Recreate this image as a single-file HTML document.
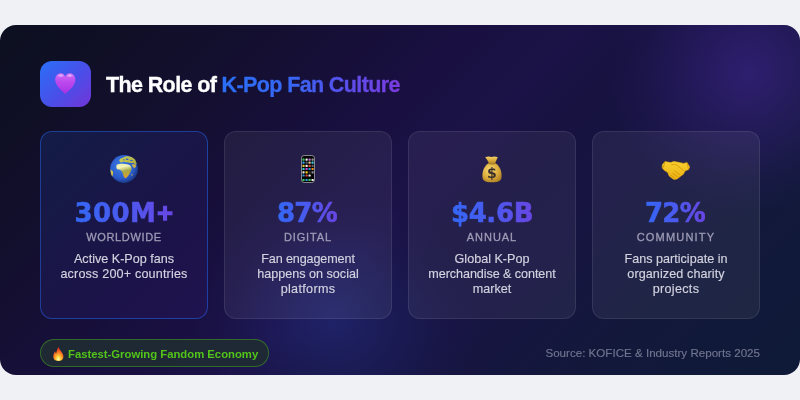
<!DOCTYPE html>
<html>
<head>
<meta charset="utf-8">
<style>
html,body{margin:0;padding:0;}
body{width:800px;height:400px;background:#f0f1f5;position:relative;overflow:hidden;font-family:"Liberation Sans","DejaVu Sans",sans-serif;}
.card{position:absolute;left:0;top:25px;width:800px;height:350px;border-radius:16px;overflow:hidden;
background:linear-gradient(135deg,#0c1020 0%,#0f0f25 10%,#150f33 27%,#170f3c 36%,#1a1144 46%,#1b1247 51%,#171240 57%,#171442 66%,#13183b 80%,#0e1a37 100%);}
.glow1{position:absolute;left:612px;top:-90px;width:276px;height:276px;border-radius:50%;
background:radial-gradient(circle at center,rgba(62,36,140,0.62) 0%,rgba(62,36,140,0.32) 30%,rgba(62,36,140,0.1) 55%,rgba(62,36,140,0) 72%);}
.glow2{position:absolute;left:190px;top:160px;width:290px;height:270px;border-radius:50%;
background:radial-gradient(ellipse at center,rgba(40,56,155,0.42) 0%,rgba(40,56,155,0.22) 28%,rgba(40,56,155,0.06) 52%,rgba(40,56,155,0) 70%);}
.icon{position:absolute;left:40px;top:36px;width:51px;height:46px;border-radius:12px;
background:linear-gradient(135deg,#2a6ff8 0%,#4a4ee8 55%,#7434d8 100%);}
.ic{position:absolute;display:block;overflow:visible;}
h1{position:absolute;left:106px;top:47px;margin:0;font-size:21.5px;font-weight:700;color:#fff;white-space:nowrap;letter-spacing:-0.62px;line-height:26px;-webkit-text-stroke:0.35px #fff;}
.grad{background:linear-gradient(90deg,#2a6ff7 0%,#3866f4 40%,#4e56ee 60%,#7c3be0 100%);-webkit-background-clip:text;background-clip:text;color:transparent;-webkit-text-stroke:0.35px transparent;}
.stat{position:absolute;top:106px;width:166px;height:186px;border-radius:12px;border:1px solid rgba(255,255,255,0.09);
background:rgba(255,255,255,0.06);text-align:center;}
.stat.hl{border-color:rgba(37,99,235,0.52);background:linear-gradient(135deg,rgba(37,99,235,0.16) 0%,rgba(80,70,235,0.1) 55%,rgba(124,58,237,0.07) 100%);}
.num{position:absolute;left:0;right:0;top:64.5px;font-size:26px;font-weight:700;line-height:32px;font-family:"DejaVu Sans",sans-serif;}
.num span{background:linear-gradient(90deg,#3467f5 0%,#4a5aef 50%,#6946e4 100%);-webkit-background-clip:text;background-clip:text;color:transparent;-webkit-text-stroke:0.6px transparent;letter-spacing:-0.35px;}
.lab{position:absolute;left:0;right:0;top:98px;font-size:11px;line-height:14px;letter-spacing:1.2px;color:#9e9bb6;text-transform:uppercase;-webkit-text-stroke:0.3px #9e9bb6;}
.desc{position:absolute;left:4px;right:4px;top:119.5px;font-size:12.6px;line-height:15.4px;color:#d3d3e0;-webkit-text-stroke:0.15px #d3d3e0;}
.badge{position:absolute;left:40px;top:314px;height:26px;width:227px;border-radius:14px;border:1px solid rgba(82,196,26,0.42);
background:rgba(31,43,52,0.93);}
.badge .bt{position:absolute;left:27px;top:7px;font-size:11.3px;font-weight:700;line-height:14px;color:#52c41a;white-space:nowrap;}
.src{position:absolute;right:40px;top:321px;font-size:11.6px;line-height:14px;color:#707590;white-space:nowrap;-webkit-text-stroke:0.15px #707590;}
</style>
</head>
<body>
<div class="card">
  <div class="glow1"></div>
  <div class="glow2"></div>
  <div class="icon"><svg class="ic" style="left:15.2px;top:12px" width="20.6" height="21" viewBox="0 0 20 21" preserveAspectRatio="none"><defs><linearGradient id="hg" x1="0" y1="0" x2="0" y2="1"><stop offset="0" stop-color="#cf6ef4"/><stop offset="0.45" stop-color="#bb48ee"/><stop offset="1" stop-color="#a832e4"/></linearGradient><radialGradient id="hh" cx="0.5" cy="0.5" r="0.5"><stop offset="0" stop-color="#f4c8ff" stop-opacity="0.85"/><stop offset="1" stop-color="#f4c8ff" stop-opacity="0"/></radialGradient></defs><path d="M10 21C7 18 0.2 13.2 0.2 6.6C0.2 2.8 2.8 0.2 5.8 0.2C7.8 0.2 9.2 1.5 10 3.6C10.8 1.5 12.2 0.2 14.2 0.2C17.2 0.2 19.8 2.8 19.8 6.6C19.8 13.2 13 18 10 21Z" fill="url(#hg)"/><ellipse cx="5.6" cy="2.6" rx="3.6" ry="1.9" fill="url(#hh)"/><ellipse cx="14.4" cy="2.6" rx="3.6" ry="1.9" fill="url(#hh)"/></svg></div>
  <h1>The Role of <span class="grad">K-Pop Fan Culture</span></h1>

  <div class="stat hl" style="left:40px">
    <svg class="ic" style="left:69px;top:22.8px" width="28" height="28" viewBox="0 0 28 28"><defs><radialGradient id="go" cx="0.42" cy="0.4" r="0.64"><stop offset="0" stop-color="#3f80ea"/><stop offset="0.68" stop-color="#2a5bca"/><stop offset="1" stop-color="#19347f"/></radialGradient><linearGradient id="gl" x1="0" y1="0" x2="0.25" y2="1"><stop offset="0" stop-color="#eef0a8"/><stop offset="0.3" stop-color="#f3f3b8"/><stop offset="0.6" stop-color="#a4aa46"/><stop offset="1" stop-color="#d59f30"/></linearGradient><linearGradient id="ge" x1="0" y1="0" x2="1" y2="0.6"><stop offset="0" stop-color="#c9cc5a"/><stop offset="1" stop-color="#b0b040"/></linearGradient></defs><circle cx="14" cy="14" r="13.9" fill="url(#go)"/><path d="M9.2 5.2C10 3.8 11.5 3 13 2.8C14.5 1.6 17 1.2 19 1.4C21.5 1.7 23.6 2.8 25 4.6C25.8 5.8 26.3 7.4 26.6 9L25.2 9.6C24.5 8.4 23.5 7.8 22.3 8C21 8.2 19.8 7.6 18.6 7.4C17.2 7.2 16 7.6 14.8 7C13.6 6.4 12.4 7.2 11.2 7.6C10.2 7.3 9.4 6.4 9.2 5.2Z" fill="url(#ge)"/><ellipse cx="17.2" cy="4.3" rx="1.5" ry="0.7" fill="#2d5fc8"/><ellipse cx="21.4" cy="5.4" rx="1.3" ry="0.6" fill="#2d5fc8"/><ellipse cx="13.8" cy="4.8" rx="0.9" ry="0.5" fill="#2d5fc8"/><path d="M6.4 11.5C6.3 10.5 6.6 9.9 7.4 9.6C8.8 9 10.2 8.7 11.6 8.8C13.4 8.6 15.2 9 16.8 9.3C18.2 9.6 19.6 10 20.4 10.8C21.2 11.8 21.8 13.2 21.6 14.3C21.2 15.4 20.6 16.2 20.2 17.2C19.6 18.6 19 19.8 18.2 20.8C17.4 21.9 16.6 22.8 15.8 23.2C14.8 23 14 22.2 13.6 21.2C13.1 19.8 12.8 18.2 12.2 16.9C11.6 15.8 10.6 15 9.4 14.7C8.4 14.6 7.4 14.5 6.9 13.8C6.5 13.1 6.4 12.3 6.4 11.5Z" fill="url(#gl)"/><path d="M21.5 9.6C22.6 9.2 24.2 9 25.8 9.8C26.4 11 25.8 12.4 24.4 13.2C23.4 12.8 22.4 11.4 21.5 9.6Z" fill="#c9b04a"/><path d="M0.6 14.4C1.6 15 2.6 15.8 3.2 16.9C3.1 18.4 2.8 20 2.4 21.4C1.8 20.8 1.4 20 1.1 19.2C0.8 17.6 0.6 16 0.6 14.4Z" fill="#d2c046"/><path d="M21.8 18.6L22.6 19.4L22 21L21.4 20.2Z" fill="#d6b040"/></svg>
    <div class="num"><span style="letter-spacing:0.35px">300M<span style="font-size:21px;vertical-align:2px;background:none;-webkit-text-stroke:1.7px transparent">+</span></span></div>
    <div class="lab" style="letter-spacing:0.65px">Worldwide</div>
    <div class="desc">Active K-Pop fans<br><span style="letter-spacing:0.17px">across 200+ countries</span></div>
  </div>
  <div class="stat" style="left:224px">
    <svg class="ic" style="left:75.5px;top:23px" width="14" height="28" viewBox="0 0 14 28"><rect x="0.5" y="0.5" width="13" height="27" rx="2.6" fill="#050505" stroke="#86868e" stroke-width="1"/><rect x="1.4" y="3.5" width="2.2" height="2.2" rx="0.6" fill="#38d05a"/><rect x="4.5" y="3.5" width="2.2" height="2.2" rx="0.6" fill="#f2f2f2"/><rect x="7.5" y="3.5" width="2.2" height="2.2" rx="0.6" fill="#c070d8"/><rect x="10.5" y="3.5" width="2.2" height="2.2" rx="0.6" fill="#9a9aa0"/><rect x="1.4" y="6.6" width="2.2" height="2.2" rx="0.6" fill="#2a9ae8"/><rect x="4.5" y="6.6" width="2.2" height="2.2" rx="0.6" fill="#505058"/><rect x="7.5" y="6.6" width="2.2" height="2.2" rx="0.6" fill="#d8c090"/><rect x="10.5" y="6.6" width="2.2" height="2.2" rx="0.6" fill="#38c8e0"/><rect x="1.4" y="9.8" width="2.2" height="2.2" rx="0.6" fill="#e0c030"/><rect x="4.5" y="9.8" width="2.2" height="2.2" rx="0.6" fill="#e8e8e8"/><rect x="7.5" y="9.8" width="2.2" height="2.2" rx="0.6" fill="#d04838"/><rect x="10.5" y="9.8" width="2.2" height="2.2" rx="0.6" fill="#606068"/><rect x="1.4" y="12.9" width="2.2" height="2.2" rx="0.6" fill="#30c8d0"/><rect x="4.5" y="12.9" width="2.2" height="2.2" rx="0.6" fill="#d040d0"/><rect x="7.5" y="12.9" width="2.2" height="2.2" rx="0.6" fill="#20a0e0"/><rect x="10.5" y="12.9" width="2.2" height="2.2" rx="0.6" fill="#f08a10"/><rect x="1.4" y="16.2" width="2.2" height="2.2" rx="0.6" fill="#e8e8e8"/><rect x="4.5" y="16.2" width="2.2" height="2.2" rx="0.6" fill="#f0d020"/><rect x="7.5" y="16.2" width="2.2" height="2.2" rx="0.6" fill="#303030"/><rect x="10.5" y="16.2" width="2.2" height="2.2" rx="0.6" fill="#909098"/><rect x="1.4" y="19.4" width="2.2" height="2.2" rx="0.6" fill="#2898e0"/><rect x="4.5" y="19.4" width="2.2" height="2.2" rx="0.6" fill="#e04838"/><rect x="7.5" y="19.4" width="2.2" height="2.2" rx="0.6" fill="#f0f0f0"/><rect x="1.4" y="23.9" width="2.2" height="2.2" rx="0.6" fill="#38d05a"/><rect x="4.5" y="23.9" width="2.2" height="2.2" rx="0.6" fill="#2a9ae8"/><rect x="7.5" y="23.9" width="2.2" height="2.2" rx="0.6" fill="#38d05a"/><rect x="10.5" y="23.9" width="2.2" height="2.2" rx="0.6" fill="#f2f2f2"/></svg>
    <div class="num" style="left:-1px;right:1px"><span style="letter-spacing:-0.8px">87%</span></div>
    <div class="lab" style="letter-spacing:0.88px">Digital</div>
    <div class="desc"><span style="letter-spacing:-0.12px">Fan engagement</span><br>happens on social<br><span style="letter-spacing:0.32px">platforms</span></div>
  </div>
  <div class="stat" style="left:408px">
    <svg class="ic" style="left:73.3px;top:23.5px" width="20" height="27" viewBox="0 0 20 27"><defs><linearGradient id="bg1" x1="0" y1="0" x2="0" y2="1"><stop offset="0" stop-color="#f2d068"/><stop offset="0.5" stop-color="#dcae3e"/><stop offset="1" stop-color="#b98a26"/></linearGradient><radialGradient id="bg2" cx="0.4" cy="0.35" r="0.7"><stop offset="0" stop-color="#f6d874"/><stop offset="0.6" stop-color="#dcac3c"/><stop offset="1" stop-color="#b08224"/></radialGradient></defs><path d="M3.2 1.2Q6 0.2 9.5 0.9Q13 0.2 15.8 1.2Q14.6 3.6 13.1 7.3L6.9 7.3Q5.4 3.6 3.2 1.2Z" fill="url(#bg1)"/><path d="M6.6 7.3L13.4 7.3C17.5 10 19.7 14.5 19.6 20C19.5 24.6 17.5 26.3 10 26.3C2.5 26.3 0.5 24.6 0.4 20C0.3 14.5 2.5 10 6.6 7.3Z" fill="url(#bg2)"/><path d="M6.4 7.5Q10 8.9 13.6 7.5" stroke="#9c7418" stroke-width="0.9" fill="none"/><text x="9.8" y="22.3" text-anchor="middle" font-family="DejaVu Sans, sans-serif" font-weight="700" font-size="14" fill="#3a2e2a">$</text></svg>
    <div class="num"><span>$4.6B</span></div>
    <div class="lab" style="letter-spacing:0.95px">Annual</div>
    <div class="desc">Global K-Pop<br><span style="letter-spacing:-0.07px">merchandise &amp; content</span><br>market</div>
  </div>
  <div class="stat" style="left:592px">
    <svg class="ic" style="left:69px;top:29px" width="28" height="19" viewBox="0 0 28 19"><defs><linearGradient id="hs" x1="0" y1="0" x2="0" y2="1"><stop offset="0" stop-color="#f8cf30"/><stop offset="1" stop-color="#eab010"/></linearGradient></defs><path d="M0.4 3.6L3 0.6L8.6 1.6L11.8 0.5L16.2 1.2L21.4 2.4L25 1.6L27.7 6L26.6 8.4L23 10L21.4 13.2L18.2 15.6L15 18L11.8 18.4L9.4 16.8L7 14.8L5.8 11.6L2.2 9.2L0.2 6.8Z" fill="url(#hs)" stroke="#eab012" stroke-width="0.6" stroke-linejoin="round"/><g stroke="#cf8e00" stroke-width="0.7" fill="none" stroke-linecap="round"><path d="M3 1.2L1.2 6.8"/><path d="M25 2.2L26.4 7.6"/><path d="M9.5 3.8Q12 2.2 15 4.2Q18 6.6 21.5 9.6"/><path d="M12.5 9.8L17.8 13.6"/><path d="M10.6 12.2L15.4 15.6"/><path d="M9 14.2L12.4 16.8"/></g></svg>
    <div class="num" style="left:-1px;right:1px"><span style="letter-spacing:-0.8px">72%</span></div>
    <div class="lab">Community</div>
    <div class="desc">Fans participate in<br><span style="letter-spacing:0.09px">organized charity</span><br><span style="letter-spacing:0.3px">projects</span></div>
  </div>

  <div class="badge"><svg class="ic" style="left:11.8px;top:7.1px" width="11" height="14" viewBox="0 0 11 14"><defs><radialGradient id="fg" cx="0.5" cy="0.86" r="0.78"><stop offset="0" stop-color="#fffbe2"/><stop offset="0.2" stop-color="#ffe04a"/><stop offset="0.45" stop-color="#ffa22a"/><stop offset="0.75" stop-color="#f45a22"/><stop offset="1" stop-color="#e8341c"/></radialGradient></defs><path d="M5.3 14C1.6 14 0.1 11.6 0.3 9.1C0.5 7.1 1.4 5.6 1.8 4.2C2.6 5.4 2.8 6.1 3.2 6.5C3.4 4 4.5 1.6 5.6 0C6.1 2 7.5 3.5 8.5 5C9.6 6.6 10.6 8 10.4 10.2C10.1 12.5 8.6 14 5.3 14Z" fill="url(#fg)"/></svg><span class="bt">Fastest-Growing Fandom Economy</span></div>
  <div class="src">Source: KOFICE &amp; Industry Reports 2025</div>
</div>
</body>
</html>
